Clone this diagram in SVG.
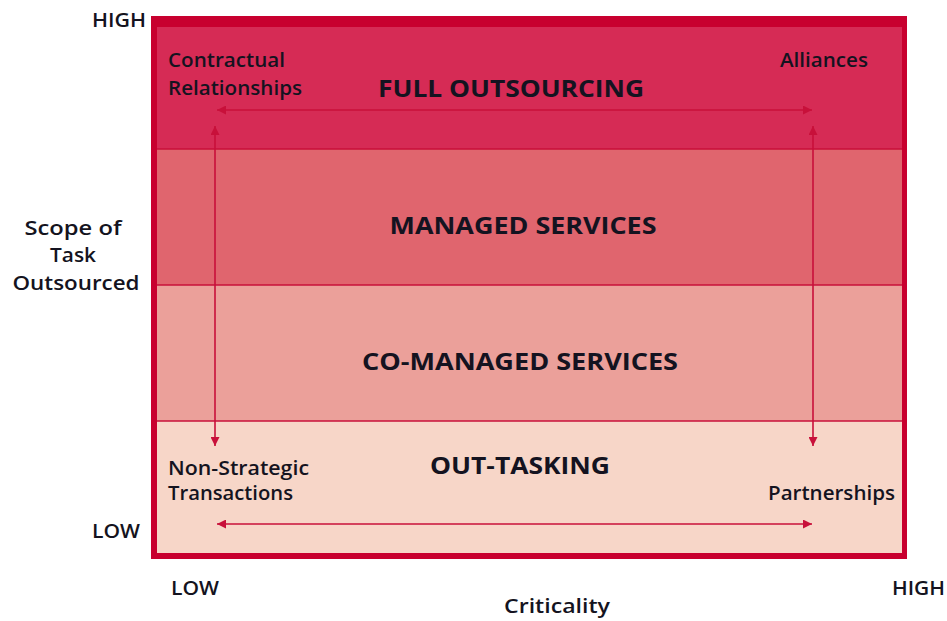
<svg xmlns="http://www.w3.org/2000/svg" width="947" height="621" viewBox="0 0 947 621">
  <style>
    .lbl { font-family: "Open Sans", "DejaVu Sans", sans-serif; font-weight: 600; font-size: 19px; fill: #141320; }
    .ttl { font-family: "Open Sans", "DejaVu Sans", sans-serif; font-weight: 700; font-size: 24px; fill: #141320; text-anchor: middle; }
    .axis { font-family: "Open Sans", "DejaVu Sans", sans-serif; font-weight: 600; font-size: 19px; fill: #141320; }
    .band-line { stroke: #c8103a; stroke-width: 1.5; }
    .conn { stroke: #c8103a; stroke-width: 1.6; fill: none; marker-start: url(#head); marker-end: url(#head); }
  </style>
  <defs>
    <marker id="head" viewBox="0 0 10 10" refX="10" refY="5" markerWidth="10" markerHeight="9" markerUnits="userSpaceOnUse" orient="auto-start-reverse">
      <path d="M0,0 L10,5 L0,10 Z" fill="#c8103a"/>
    </marker>
  </defs>

  <rect width="947" height="621" fill="#ffffff"/>

  <!-- frame -->
  <rect x="151" y="16" width="756" height="543" fill="#c8002f"/>

  <!-- bands -->
  <g id="full-outsourcing">
    <rect x="157" y="27" width="745" height="122" fill="#d62b55"/>
    <text class="ttl" x="511" y="97" textLength="266" lengthAdjust="spacingAndGlyphs">FULL OUTSOURCING</text>
  </g>
  <g id="managed-services">
    <rect x="157" y="149" width="745" height="136" fill="#e0656e"/>
    <text class="ttl" x="523" y="234" textLength="267" lengthAdjust="spacingAndGlyphs">MANAGED SERVICES</text>
  </g>
  <g id="co-managed-services">
    <rect x="157" y="285" width="745" height="136" fill="#eba09a"/>
    <text class="ttl" x="520" y="370" textLength="316" lengthAdjust="spacingAndGlyphs">CO-MANAGED SERVICES</text>
  </g>
  <g id="out-tasking">
    <rect x="157" y="421" width="745" height="132" fill="#f7d6c8"/>
    <text class="ttl" x="520" y="474" textLength="180" lengthAdjust="spacingAndGlyphs">OUT-TASKING</text>
  </g>
  <line class="band-line" x1="157" y1="149" x2="902" y2="149"/>
  <line class="band-line" x1="157" y1="285" x2="902" y2="285"/>
  <line class="band-line" x1="157" y1="421" x2="902" y2="421"/>

  <!-- corner relationship labels -->
  <g id="contractual-relationships">
    <text class="lbl" x="168" y="67" textLength="117" lengthAdjust="spacingAndGlyphs">Contractual</text>
    <text class="lbl" x="168" y="95" textLength="134" lengthAdjust="spacingAndGlyphs">Relationships</text>
  </g>
  <g id="alliances">
    <text class="lbl" x="780" y="67" textLength="88" lengthAdjust="spacingAndGlyphs">Alliances</text>
  </g>
  <g id="non-strategic-transactions">
    <text class="lbl" x="168" y="475" textLength="141" lengthAdjust="spacingAndGlyphs">Non-Strategic</text>
    <text class="lbl" x="168" y="500" textLength="125" lengthAdjust="spacingAndGlyphs">Transactions</text>
  </g>
  <g id="partnerships">
    <text class="lbl" x="768" y="500" textLength="127" lengthAdjust="spacingAndGlyphs">Partnerships</text>
  </g>

  <!-- connectors -->
  <g id="connectors">
    <line class="conn" x1="217" y1="110" x2="812" y2="110"/>
    <line class="conn" x1="217" y1="524" x2="812" y2="524"/>
    <line class="conn" x1="215" y1="126" x2="215" y2="446"/>
    <line class="conn" x1="813" y1="126" x2="813" y2="446"/>
  </g>

  <!-- axes -->
  <g id="axis-labels">
    <text class="axis" x="92" y="27" textLength="54" lengthAdjust="spacingAndGlyphs">HIGH</text>
    <text class="axis" x="92" y="538" textLength="48" lengthAdjust="spacingAndGlyphs">LOW</text>
    <text class="axis" x="171" y="595" textLength="48" lengthAdjust="spacingAndGlyphs">LOW</text>
    <text class="axis" x="892" y="595" textLength="53" lengthAdjust="spacingAndGlyphs">HIGH</text>
    <text class="axis" x="557" y="613" text-anchor="middle" textLength="106" lengthAdjust="spacingAndGlyphs">Criticality</text>
    <text class="axis" x="73" y="235" text-anchor="middle" textLength="97" lengthAdjust="spacingAndGlyphs">Scope of</text>
    <text class="axis" x="73" y="262" text-anchor="middle" textLength="46" lengthAdjust="spacingAndGlyphs">Task</text>
    <text class="axis" x="76" y="290" text-anchor="middle" textLength="127" lengthAdjust="spacingAndGlyphs">Outsourced</text>
  </g>
</svg>
